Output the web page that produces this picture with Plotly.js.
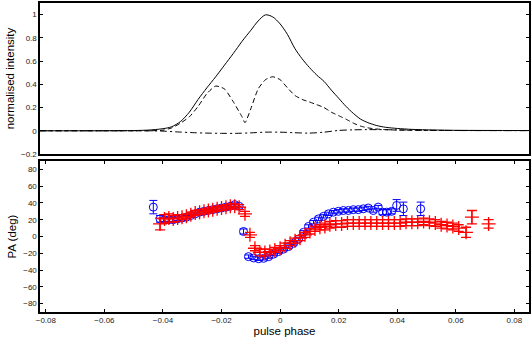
<!DOCTYPE html>
<html>
<head>
<meta charset="utf-8">
<script src="https://cdn.plot.ly/plotly-3.0.1.min.js"></script>
<style>html,body{margin:0;padding:0;background:#fff;}#chart{width:532px;height:341px;}</style>
</head>
<body>
<div id="chart"></div>
<script>
// ---- Profile data (top panel) ----
var phaseI = [-0.082, -0.06, -0.05, -0.045, -0.04, -0.037, -0.034, -0.031, -0.028, -0.025, -0.022, -0.019, -0.016, -0.013, -0.010, -0.0075, -0.005, -0.0025, 0, 0.0025, 0.005, 0.0075, 0.010, 0.0125, 0.015, 0.0175, 0.020, 0.0225, 0.025, 0.0275, 0.030, 0.033, 0.036, 0.040, 0.045, 0.05, 0.06, 0.085];
var totalI = [0, 0, 0.002, 0.006, 0.018, 0.035, 0.08, 0.16, 0.27, 0.37, 0.465, 0.565, 0.665, 0.77, 0.865, 0.945, 0.998, 0.98, 0.92, 0.83, 0.71, 0.62, 0.545, 0.48, 0.425, 0.35, 0.28, 0.21, 0.15, 0.10, 0.07, 0.045, 0.03, 0.02, 0.012, 0.008, 0.004, 0.002];

var phaseL = [-0.082, -0.06, -0.045, -0.04, -0.037, -0.034, -0.031, -0.028, -0.025, -0.022, -0.019, -0.016, -0.013, -0.012, -0.010, -0.0075, -0.005, -0.0025, 0, 0.0025, 0.005, 0.0075, 0.010, 0.0125, 0.015, 0.0175, 0.020, 0.0225, 0.025, 0.0275, 0.030, 0.033, 0.036, 0.040, 0.05, 0.085];
var linearI = [0, 0, 0, 0.005, 0.025, 0.066, 0.12, 0.21, 0.32, 0.385, 0.36, 0.25, 0.12, 0.07, 0.19, 0.36, 0.44, 0.465, 0.44, 0.37, 0.305, 0.27, 0.248, 0.225, 0.2, 0.16, 0.13, 0.10, 0.066, 0.04, 0.025, 0.015, 0.01, 0.006, 0.003, 0.002];

var phaseV = [-0.082, -0.045, -0.04, -0.035, -0.03, -0.025, -0.02, -0.015, -0.01, -0.005, 0, 0.005, 0.01, 0.015, 0.02, 0.025, 0.03, 0.04, 0.05, 0.06, 0.085];
var circI = [0, 0, -0.003, -0.01, -0.016, -0.02, -0.022, -0.022, -0.018, -0.012, -0.012, -0.017, -0.02, -0.012, 0.003, 0.008, 0.01, 0.008, 0.004, 0.002, 0.001];

// ---- PA data (bottom panel) ----
var phaseBlue = [-0.0433, -0.0410, -0.0395, -0.0380, -0.0365, -0.0350, -0.0335, -0.0320, -0.0305, -0.0290, -0.0275, -0.0260, -0.0245, -0.0230, -0.0215, -0.0200, -0.0185, -0.0170, -0.0155, -0.0140, -0.0125, -0.0108, -0.0090, -0.0073, -0.0056, -0.0039, -0.0022, -0.0005, 0.0012, 0.0029, 0.0046, 0.0063, 0.0080, 0.0097, 0.0114, 0.0131, 0.0148, 0.0165, 0.0182, 0.0199, 0.0216, 0.0233, 0.0250, 0.0267, 0.0284, 0.0301, 0.0318, 0.0335, 0.0350, 0.0364, 0.0381, 0.0398, 0.0421, 0.0480];
var paBlue = [35, 21, 20, 20, 20, 21, 22, 23, 25, 27, 29, 30, 31, 32, 33, 34, 35, 36, 38, 36, 6, -24, -25.6, -26.5, -26, -24, -21, -18, -15, -12, -8, -3, 5, 12, 17, 21, 24, 27, 29, 30, 31, 31, 32, 32, 33, 34, 31, 35, 29, 29, 30, 37, 33, 33];
var errBlue = [8, 4, 2, 2, 2, 2, 2, 2, 2, 2, 2, 2, 2, 2, 2, 2, 2, 2, 2, 2, 3, 2, 2, 2, 2, 2, 2, 2, 2, 2, 2, 2, 2, 2, 2, 2, 2, 2, 2, 2, 2, 2, 2, 2, 2, 2, 2, 2, 3, 3, 3, 7, 8, 8];

var phaseRed = [-0.0410, -0.0395, -0.0380, -0.0365, -0.0350, -0.0335, -0.0320, -0.0305, -0.0290, -0.0275, -0.0260, -0.0245, -0.0230, -0.0215, -0.0200, -0.0185, -0.0170, -0.0155, -0.0140, -0.0120, -0.0103, -0.0086, -0.0069, -0.0052, -0.0035, -0.0018, 0.0000, 0.0017, 0.0034, 0.0051, 0.0068, 0.0085, 0.0102, 0.0119, 0.0136, 0.0153, 0.0170, 0.0190, 0.0210, 0.0230, 0.0250, 0.0270, 0.0290, 0.0310, 0.0330, 0.0350, 0.0370, 0.0390, 0.0410, 0.0430, 0.0450, 0.0470, 0.0490, 0.0510, 0.0530, 0.0550, 0.0570, 0.0590, 0.0610, 0.0635, 0.0655, 0.0712];
var paRed = [15, 21, 22, 21, 22, 23, 24, 26, 28, 29, 30, 31, 32, 33, 34, 35, 36, 36, 35, 27, 2, -14, -19, -19, -18, -16, -14, -11, -8, -5, -2, 2, 6, 9, 11, 12, 14, 15, 15, 16, 16, 16, 16, 16, 16, 16, 16, 16, 16, 17, 17, 17, 18, 17, 16, 14, 13, 12, 10, 5, 23, 15];
var errRed = [7, 5, 5, 4, 4, 3, 3, 3, 3, 3, 3, 3, 3, 3, 3, 3, 3, 3, 3, 3, 3, 3, 4, 4, 3, 3, 3, 3, 3, 3, 3, 3, 3, 3, 3, 4, 4, 4, 4, 4, 4, 4, 4, 4, 4, 4, 4, 4, 4, 4, 4, 4, 4, 4, 4, 4, 4, 4, 4, 6, 8, 5];

var yTicksTop = [-0.2, 0, 0.2, 0.4, 0.6, 0.8, 1];
var yTicksPA = [-80, -60, -40, -20, 0, 20, 40, 60, 80];
var xTicks = [-0.08, -0.06, -0.04, -0.02, 0, 0.02, 0.04, 0.06, 0.08];

var traces = [
  {x: phaseI, y: totalI, xaxis: 'x', yaxis: 'y', mode: 'lines', line: {color: '#000', width: 1, shape: 'spline', smoothing: 0.8}, hoverinfo: 'skip'},
  {x: phaseL, y: linearI, xaxis: 'x', yaxis: 'y', mode: 'lines', line: {color: '#000', width: 1, dash: '5px,3px', shape: 'spline', smoothing: 0.6}, hoverinfo: 'skip'},
  {x: phaseV, y: circI, xaxis: 'x', yaxis: 'y', mode: 'lines', line: {color: '#000', width: 1, dash: '7px,3px,2px,3px', shape: 'spline', smoothing: 0.8}, hoverinfo: 'skip'},
  {x: phaseBlue, y: paBlue, xaxis: 'x2', yaxis: 'y2', mode: 'markers',
   marker: {symbol: 'circle-open', size: 8, color: '#0000ff', line: {width: 1, color: '#0000ff'}},
   error_y: {type: 'data', array: errBlue, visible: true, color: '#0000ff', thickness: 1, width: 4}, hoverinfo: 'skip'},
  {x: phaseRed, y: paRed, xaxis: 'x2', yaxis: 'y2', mode: 'markers',
   marker: {symbol: 'cross-thin-open', size: 10, color: '#ff0000', line: {width: 1.3, color: '#ff0000'}},
   error_y: {type: 'data', array: errRed, visible: true, color: '#ff0000', thickness: 1.3, width: 5}, hoverinfo: 'skip'}
];

var tickFont = {family: 'Liberation Sans, Arial, sans-serif', size: 8, color: '#222'};
var titleFont = {family: 'Liberation Sans, Arial, sans-serif', size: 11.5, color: '#000'};

var layout = {
  width: 532, height: 341,
  margin: {l: 40, r: 3, t: 3, b: 29},
  paper_bgcolor: '#fff', plot_bgcolor: '#fff',
  showlegend: false,
  xaxis: {domain: [0, 1], anchor: 'y', range: [-0.082, 0.085], showticklabels: false, ticks: '',
          showgrid: false, zeroline: false, showline: true, mirror: true, linecolor: '#000', linewidth: 1.6},
  yaxis: {domain: [0.5113, 1], anchor: 'x', range: [-0.2, 1.1], tickvals: yTicksTop, ticktext: ['\u22120.2', '0', '0.2', '0.4', '0.6', '0.8', '1'],
          ticks: 'inside', ticklen: 3, tickcolor: '#000', mirror: 'ticks', tickfont: tickFont,
          showgrid: false, zeroline: false, showline: true, linecolor: '#000', linewidth: 1.6,
          title: {text: 'normalised intensity', font: titleFont, standoff: 4}},
  xaxis2: {domain: [0, 1], anchor: 'y2', range: [-0.082, 0.085], tickvals: xTicks,
           ticktext: ['\u22120.08', '\u22120.06', '\u22120.04', '\u22120.02', '0', '0.02', '0.04', '0.06', '0.08'],
           ticks: 'inside', ticklen: 3, tickcolor: '#000', mirror: 'ticks', tickfont: tickFont,
           showgrid: false, zeroline: false, showline: true, linecolor: '#000', linewidth: 1.6,
           title: {text: 'pulse phase', font: titleFont, standoff: 2}},
  yaxis2: {domain: [0, 0.4887], anchor: 'x2', range: [-90, 90], tickvals: yTicksPA,
           ticktext: ['\u221280', '\u221260', '\u221240', '\u221220', '0', '20', '40', '60', '80'],
           ticks: 'inside', ticklen: 3, tickcolor: '#000', mirror: 'ticks', tickfont: tickFont,
           showgrid: false, zeroline: false, showline: true, linecolor: '#000', linewidth: 1.6,
           title: {text: 'PA (deg)', font: titleFont, standoff: 4}}
};

Plotly.newPlot('chart', traces, layout, {staticPlot: true, displayModeBar: false});
</script>
</body>
</html>
